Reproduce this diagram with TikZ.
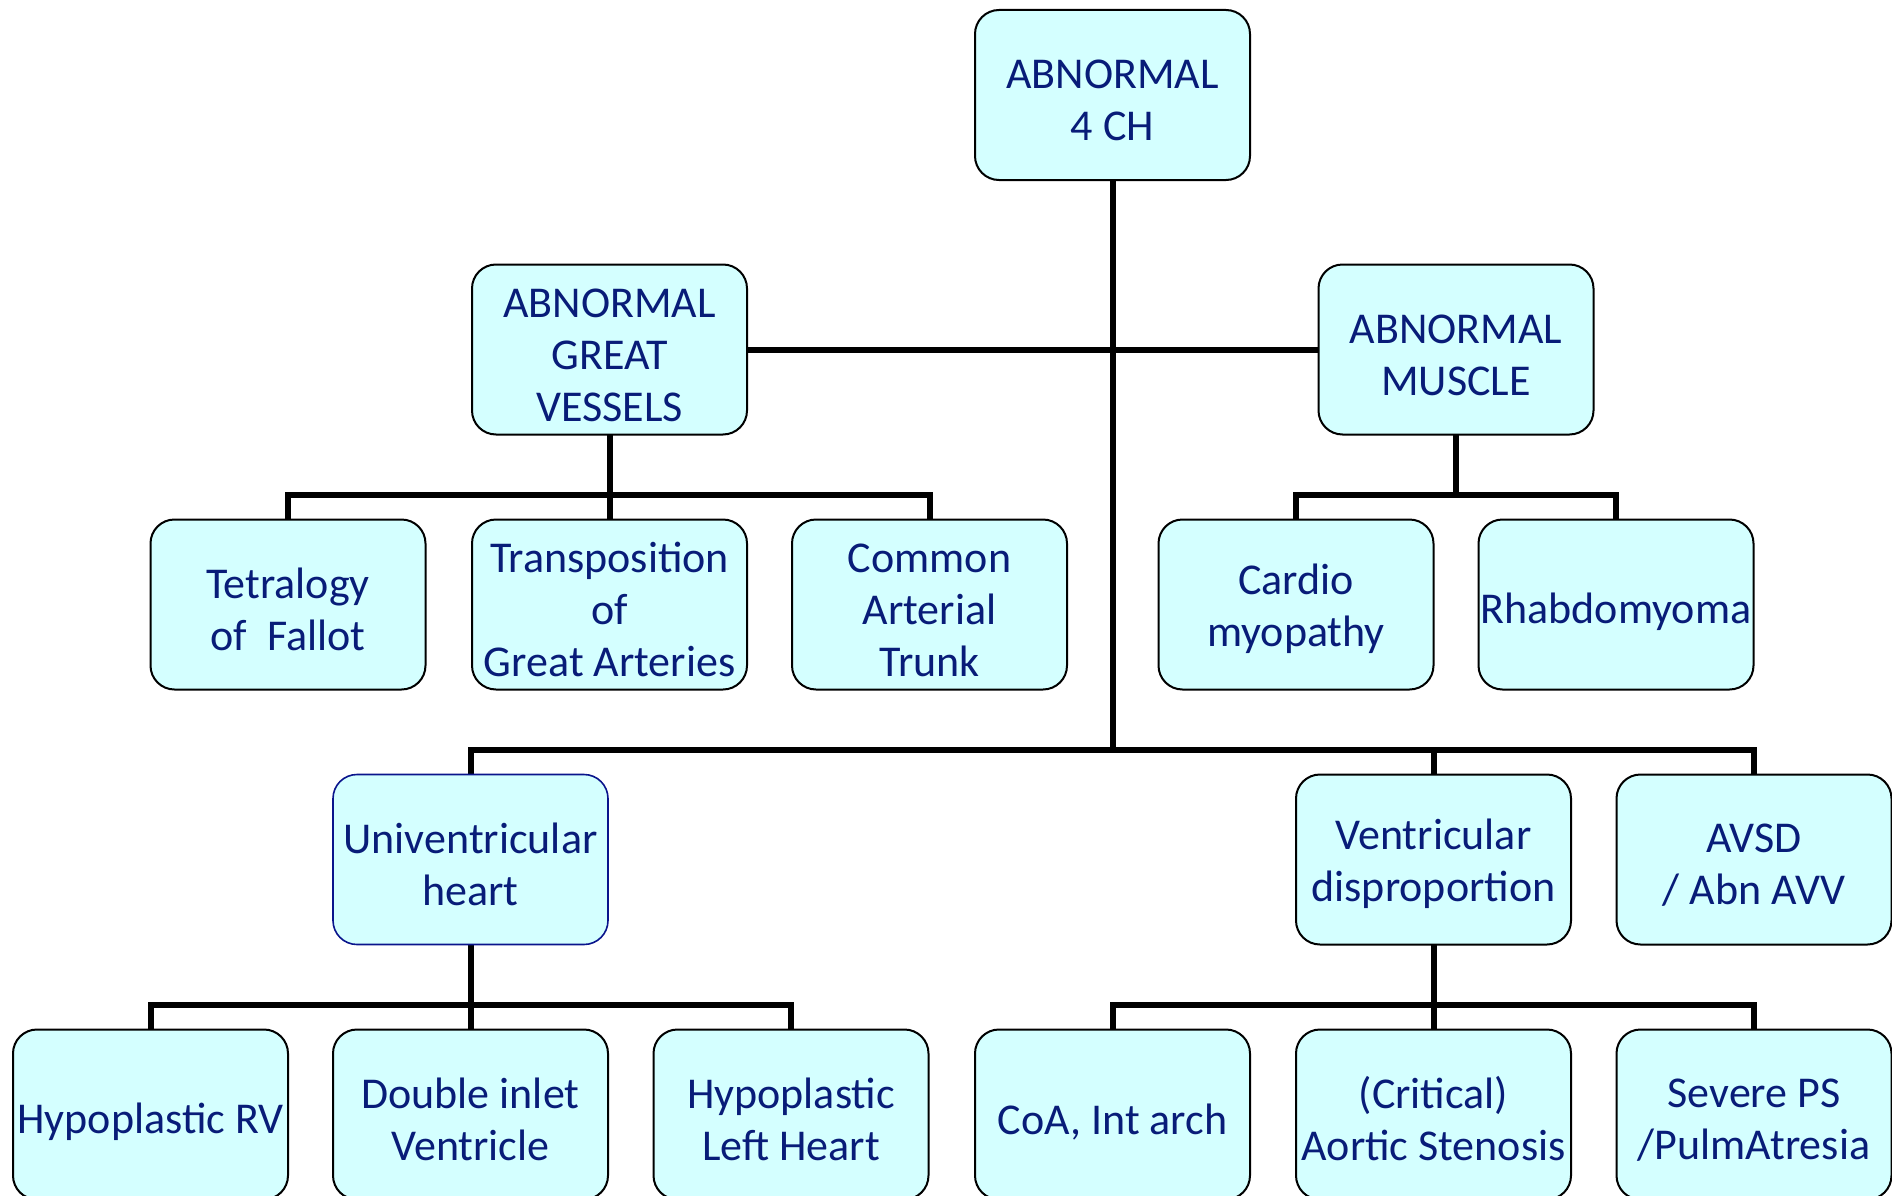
\documentclass[tikz,border=0pt]{standalone}
\usepackage{fontspec}
\setmainfont{Carlito}
\usetikzlibrary{backgrounds}
\definecolor{boxfill}{RGB}{212,255,255}
\definecolor{txt}{RGB}{8,28,120}
\definecolor{bluebd}{RGB}{10,20,140}
\newcommand{\topstrut}{\rule{0pt}{40pt}}
\tikzset{
  box/.style={draw=black, line width=2pt, fill=boxfill, rounded corners=24pt,
    minimum width=275pt, minimum height=170pt, inner sep=0pt, outer sep=0pt,
    align=center, text=txt, font=\fontsize{44}{52}\selectfont,
    execute at begin node={\rule{0pt}{46pt}}},
  bluebox/.style={box, draw=bluebd, line width=1.6pt},
  conn/.style={line width=6pt, black, line join=miter}
}
\begin{document}
\begin{tikzpicture}[x=1pt,y=-1pt]
\useasboundingbox (0,0) rectangle (1892,1196);
\clip (0,0) rectangle (1892,1196);
\node[box] (top) at (1112.5,95) {\topstrut ABNORMAL\\4 CH};
\node[box] (gv) at (609.5,349.5) {\topstrut ABNORMAL\\GREAT\\VESSELS};
\node[box] (mus) at (1456,349.5) {\topstrut ABNORMAL\\MUSCLE};
\node[box] (tof) at (288,604.5) {\topstrut Tetralogy\\of~ Fallot};
\node[box] (tga) at (609.5,604.5) {\topstrut Transposition\\of\\Great Arteries};
\node[box] (cat) at (929.5,604.5) {\topstrut Common\\Arterial\\Trunk};
\node[box] (card) at (1296,604.5) {\topstrut Cardio\\myopathy};
\node[box] (rhab) at (1616,604.5) {Rhabdomyoma};
\node[bluebox] (uv) at (470.5,859.5) {\topstrut Univentricular\\heart};
\node[box] (vd) at (1433.5,859.5) {\topstrut Ventricular\\disproportion};
\node[box] (avsd) at (1754,859.5) {\topstrut AVSD\\/ Abn AVV};
\node[box] (hrv) at (150.5,1114.5) {Hypoplastic RV};
\node[box] (div) at (470.5,1114.5) {\topstrut Double inlet\\Ventricle};
\node[box] (hlh) at (791,1114.5) {\topstrut Hypoplastic\\Left Heart};
\node[box] (coa) at (1112.5,1114.5) {CoA, Int arch};
\node[box] (as) at (1433.5,1114.5) {\topstrut (Critical)\\Aortic Stenosis};
\node[box] (ps) at (1754,1114.5) {\topstrut Severe PS\\/PulmAtresia};
\begin{scope}[on background layer]
\coordinate (busA) at (1112.5,750);
\draw[conn] (top.south) -- (busA);
\draw[conn] (gv.east) -- (mus.west);
\draw[conn] (gv.south) -- (tga.north);
\draw[conn] (tof.north) -- ++(0,-25) -| (cat.north);
\draw[conn] (mus.south) -- ++(0,61);
\draw[conn] (card.north) -- ++(0,-25) -| (rhab.north);
\draw[conn] (uv.north) -- ++(0,-25) -| (avsd.north);
\draw[conn] (vd.north) -- ++(0,-25);
\draw[conn] (uv.south) -- (div.north);
\draw[conn] (hrv.north) -- ++(0,-25) -| (hlh.north);
\draw[conn] (vd.south) -- (as.north);
\draw[conn] (coa.north) -- ++(0,-25) -| (ps.north);
\end{scope}
\end{tikzpicture}
\end{document}
